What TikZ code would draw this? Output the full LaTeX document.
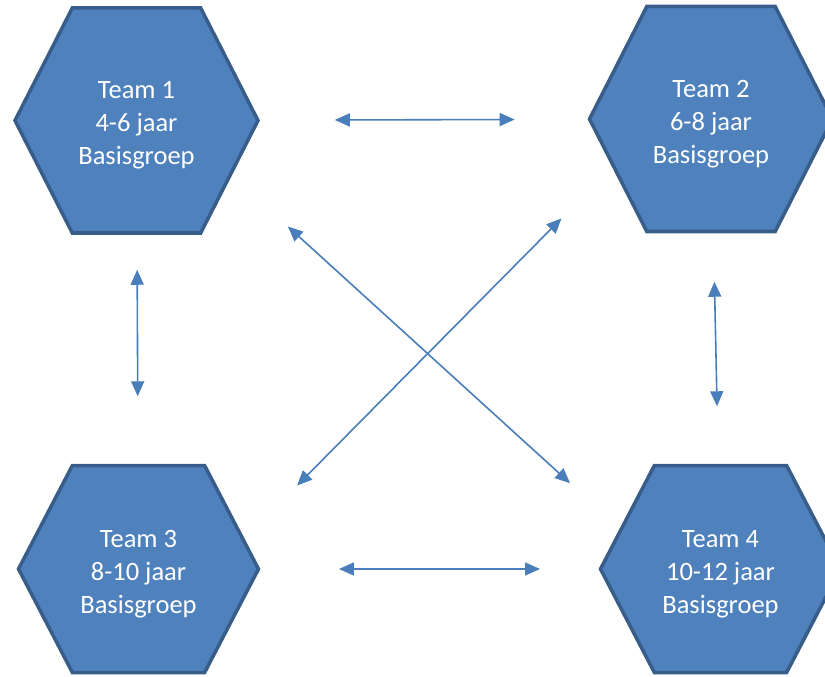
\documentclass[tikz,border=0pt]{standalone}
\usepackage{fontspec}
\setmainfont{Carlito}
\usetikzlibrary{arrows.meta, shapes.symbols}
\definecolor{hexFill}{HTML}{4F81BD}
\definecolor{hexBorder}{HTML}{385D8A}
\definecolor{linkBlue}{HTML}{4A7EBB}
\tikzstyle{tHex} = [signal, signal to=west and east, draw=hexBorder, fill=hexFill, line width=3.5pt, text=white, align=center, text height=93pt, font=\fontsize{26.5}{33}\selectfont]
\tikzstyle{tHexTop} = [tHex, minimum width=243pt, minimum height=225pt, signal pointer angle=126]
\tikzstyle{tHexBottom} = [tHex, minimum width=240pt, minimum height=207pt, signal pointer angle=125]
\tikzstyle{tArrow} = [linkBlue, line width=1.6pt, <->, >={Triangle[length=15pt,width=13pt]}]
\begin{document}
\begin{tikzpicture}[node distance=574.5pt]
    \useasboundingbox (-136.5pt,120.5pt) rectangle (688.5pt,-556.5pt);
    \node (t1) [tHexTop] {Team 1\\4-6 jaar\\Basisgroep};
    \node (t2) [tHexTop, right of=t1, yshift=1.5pt] {Team 2\\6-8 jaar\\Basisgroep};
    \node (t3) [tHexBottom, below of=t1, xshift=2pt, yshift=126pt] {Team 3\\8-10 jaar\\Basisgroep};
    \node (t4) [tHexBottom, right of=t3, xshift=7.5pt] {Team 4\\10-12 jaar\\Basisgroep};

    \draw [tArrow, shorten <=75pt, shorten >=73pt] (t1) -- (t2);
    \draw [tArrow, shorten <=78.5pt, shorten >=58.5pt] (t3) -- (t4);
    \draw [tArrow, shorten <=35pt, shorten >=67.5pt] (t1) -- (t3);
    \draw [tArrow, shorten <=48.5pt, shorten >=57.5pt] (t2) -- (t4);
    \draw [tArrow, shorten <=75.7pt, shorten >=67pt] (t1.-30) -- (t4.158.5);
    \draw [tArrow, shorten <=72pt, shorten >=74.6pt] (t2.-154.4) -- (t3.16.7);
\end{tikzpicture}
\end{document}
